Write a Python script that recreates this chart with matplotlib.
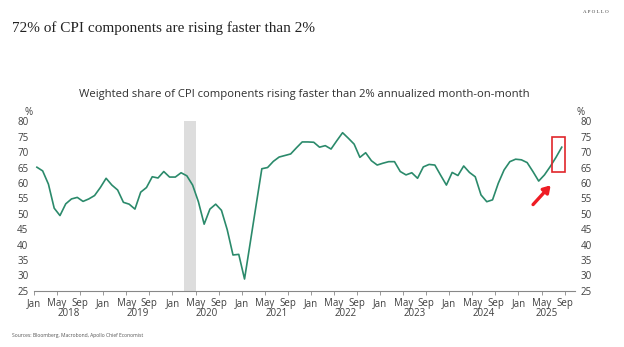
import numpy as np
import matplotlib.pyplot as plt
from matplotlib.patches import Rectangle, FancyArrowPatch

# monthly share (%), Jan 2018 .. Aug 2025
share = [65.1, 63.9, 59.6, 51.8, 49.4, 53.2, 54.8, 55.3, 54.0, 54.8, 55.9, 58.5,
         61.5, 59.3, 57.7, 53.7, 53.1, 51.5, 57.0, 58.5, 62.0, 61.6, 63.7, 61.9,
         61.9, 63.3, 62.3, 59.3, 53.9, 46.6, 51.5, 53.1, 51.1, 44.8, 36.6, 36.8,
         28.8, 40.7, 52.7, 64.6, 65.0, 67.0, 68.4, 68.9, 69.4, 71.4, 73.3, 73.3,
         73.2, 71.6, 72.1, 71.0, 73.7, 76.3, 74.5, 72.6, 68.3, 69.8, 67.2, 65.8,
         66.4, 66.9, 66.9, 63.7, 62.6, 63.3, 61.5, 65.2, 66.0, 65.8, 62.5, 59.3,
         63.4, 62.4, 65.5, 63.4, 62.0, 56.1, 53.9, 54.5, 59.9, 64.2, 66.9, 67.7,
         67.5, 66.6, 63.7, 60.6, 62.6, 65.3, 68.3, 71.6]
years = [2018, 2019, 2020, 2021, 2022, 2023, 2024, 2025]
month_names = ["Jan", "May", "Sep"]
recession = (26, 28)  # Mar 2020 - May 2020, in months from Jan 2018

plt.rcParams["font.family"] = ["Open Sans", "DejaVu Sans"]

x_end = 93.8
x = np.arange(len(share)) + 0.5

fig = plt.figure(figsize=(6.24, 3.47), dpi=100)
ax = fig.add_axes([0.0545, 0.1622, 0.8670, 0.4882])

ax.axvspan(recession[0], recession[1], color="#dddddd", lw=0, zorder=0)
ax.plot(x, share, color="#2b8a6b", lw=1.2, zorder=3)

# highlight the latest reading
ax.add_patch(Rectangle((89.8, 63.4), 2.3, 11.6, fill=False, ec="#e0262b", lw=1.2, zorder=4))
ax.add_patch(FancyArrowPatch((86.2, 52.3), (89.9, 59.9), arrowstyle="-|>,head_length=4,head_width=2.5",
                             color="#ee1c24", lw=2.4, mutation_scale=1, zorder=4))

ax.set_xlim(0, x_end)
ax.set_ylim(25, 80)
for s in ["top", "left", "right"]:
    ax.spines[s].set_visible(False)
ax.spines["bottom"].set_color("#888888")
ax.spines["bottom"].set_linewidth(0.8)

ticks = [m for m in range(0, 93, 4)]
ax.set_xticks(ticks)
ax.set_xticklabels([month_names[(m % 12) // 4] for m in ticks])
ax.tick_params(axis="x", length=3, width=0.6, color="#888888", labelsize=7, labelcolor="#404040", pad=2)

yt = np.arange(25, 81, 5)
ax.set_yticks(yt)
ax.tick_params(axis="y", length=0, labelsize=7, labelcolor="#404040", pad=4,
               labelleft=True, labelright=True)

for i, yr in enumerate(years):
    lo = i * 12
    hi = min(lo + 12, x_end)
    ax.text((lo + hi) / 2, -0.135, str(yr), transform=ax.get_xaxis_transform(),
            ha="center", va="center", fontsize=7, color="#404040")

ax.text(-0.003, 1.05, "%", transform=ax.transAxes, ha="right", va="center", fontsize=7, color="#404040")
ax.text(1.003, 1.05, "%", transform=ax.transAxes, ha="left", va="center", fontsize=7, color="#404040")

fig.text(0.488, 0.727, "Weighted share of CPI components rising faster than 2% annualized month-on-month",
         ha="center", va="center", fontsize=8.1, color="#303030")
fig.text(0.019, 0.918, "72% of CPI components are rising faster than 2%", ha="left", va="center",
         fontsize=11, color="#222222", family=["Liberation Serif"])
fig.text(0.955, 0.964, "A P O L L O", ha="center", va="center", fontsize=3.6, color="#333333",
         family=["Liberation Serif"])
fig.text(0.019, 0.032, "Sources: Bloomberg, Macrobond, Apollo Chief Economist", ha="left", va="center",
         fontsize=3.6, color="#555555")

fig.savefig("out.png", dpi=100, facecolor="white")
